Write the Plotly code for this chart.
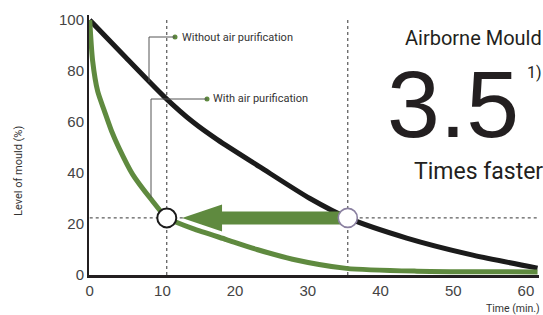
import plotly.graph_objects as go

# ---- data ----
time_without = [0, 5, 10.3, 14.2, 17.6, 23.4, 30.3, 35.5, 43.6, 52.7, 61.6]
level_without = [100, 85.2, 69.8, 60, 53, 42.4, 30.0, 22.4, 14.5, 7.8, 2.7]

time_with = [0, 0.4, 1.1, 2, 3, 4, 5.9, 8.5, 10.6, 12, 14.2, 18.8, 23, 27.9, 35.3, 45, 61.6]
level_with = [100, 84, 72, 64.5, 56.5, 50, 39.5, 29.5, 22.4, 20.6, 18.2, 13.9, 10, 6.2, 2.6, 1.5, 1.2]

marker_times = [10.6, 35.5]      # time to reach the same level: with / without purification
marker_level = 22.4

x_ticks = [0, 10, 20, 30, 40, 50, 60]
y_ticks = [0, 20, 40, 60, 80, 100]

GREEN = "#5f8a3f"
BLACK = "#1b1b1b"
TXT = "#231f20"
COND = "Roboto, Liberation Sans, sans-serif"
TICKF = "Liberation Sans, Arial, sans-serif"

W, H = 543, 315
PL, PT, PW, PH = 89, 15, 450, 260          # plot area in pixels
XR = [-0.1, 61.8]
YR = [0, 102]

def X(px):   # pixel -> data x
    return XR[0] + (px - PL) / PW * (XR[1] - XR[0])
def Y(py):   # pixel -> data y
    return YR[0] + (PT + PH - py) / PH * (YR[1] - YR[0])
def XP(px):  # pixel -> paper x
    return (px - PL) / PW
def YP(py):  # pixel -> paper y
    return (PT + PH - py) / PH

fig = go.Figure()

fig.add_trace(go.Scatter(x=time_without, y=level_without, mode="lines",
                         line=dict(color=BLACK, width=5, shape="spline", smoothing=0.7),
                         hoverinfo="skip", showlegend=False))
fig.add_trace(go.Scatter(x=time_with, y=level_with, mode="lines",
                         line=dict(color=GREEN, width=5, shape="spline", smoothing=0.7),
                         hoverinfo="skip", showlegend=False))

# arrow from the "without" point back towards the "with" point
x_start = marker_times[1]
x_tip = marker_times[0] + 2.1
x_base = x_tip + 5.5
hs, hh = 2.55, 5.3
ax = [x_start, x_base, x_base, x_tip, x_base, x_base, x_start, x_start]
ay = [marker_level + hs, marker_level + hs, marker_level + hh, marker_level,
      marker_level - hh, marker_level - hs, marker_level - hs, marker_level + hs]
fig.add_trace(go.Scatter(x=ax, y=ay, mode="lines", fill="toself", fillcolor=GREEN,
                         line=dict(width=0, color=GREEN), hoverinfo="skip", showlegend=False))

# circles
fig.add_trace(go.Scatter(x=marker_times, y=[marker_level] * 2, mode="markers",
                         marker=dict(size=19, color="white",
                                     line=dict(color=[BLACK, "#8a80a0"], width=[2, 1.6])),
                         hoverinfo="skip", showlegend=False))

# dotted reference lines
for t in marker_times:
    fig.add_shape(type="line", x0=t, x1=t, y0=0, y1=Y(17), layer="below",
                  line=dict(color="#333", width=1, dash="dot"))
fig.add_shape(type="line", x0=0, x1=XR[1], y0=marker_level, y1=marker_level, layer="below",
              line=dict(color="#333", width=1, dash="dot"))

# leader lines
fig.add_shape(type="path", path=f"M {X(175)},{Y(37)} L {X(149)},{Y(37)} L {X(149)},{Y(82)}",
              line=dict(color="#555", width=1))
fig.add_shape(type="path", path=f"M {X(207)},{Y(99)} L {X(151)},{Y(99)} L {X(151)},{Y(198)}",
              line=dict(color="#555", width=1))
fig.add_trace(go.Scatter(x=[X(175), X(207)], y=[Y(37), Y(99)], mode="markers",
                         marker=dict(size=5, color=GREEN), hoverinfo="skip", showlegend=False))

def note(sx, sy, text, size, xanchor="left", color=TXT, angle=0, family=COND):
    return dict(x=XP(sx), y=YP(sy), xref="paper", yref="paper", text=text,
                xanchor=xanchor, yanchor="middle", showarrow=False, textangle=angle,
                font=dict(family=family, size=size, color=color))

ann = [
    note(180, 37, "Without air purification", 11, color="#333"),
    note(211, 99, "With air purification", 11, color="#333"),
    note(544, 38, "Airborne Mould", 20, xanchor="right"),
    note(521, 104, "3.5", 95, xanchor="right", family=TICKF),
    note(525, 72, "1)", 16),
    note(545, 171.5, "Times faster", 23, xanchor="right"),
    note(542, 308, "Time (min.)", 10.5, xanchor="right", color="#333"),
    note(18, 171, "Level of mould (%)", 11, xanchor="center", color="#333", angle=-90),
]

fig.update_layout(
    width=W, height=H,
    margin=dict(l=PL, r=W - PL - PW, t=PT, b=H - PT - PH),
    plot_bgcolor="white", paper_bgcolor="white",
    annotations=ann,
    xaxis=dict(range=XR, tickvals=x_ticks, showgrid=False, zeroline=False,
               showline=True, linecolor=TXT, linewidth=2.5, ticks="",
               tickfont=dict(family=TICKF, size=15, color="#444")),
    yaxis=dict(range=YR, tickvals=y_ticks, showgrid=False, zeroline=False,
               showline=True, linecolor=TXT, linewidth=2, ticks="",
               tickfont=dict(family=TICKF, size=15, color="#444")),
)

fig.write_html("out.html",
               config={"displayModeBar": False},
               post_script="document.body.style.margin='0';"
                           "document.documentElement.style.overflow='hidden';")
